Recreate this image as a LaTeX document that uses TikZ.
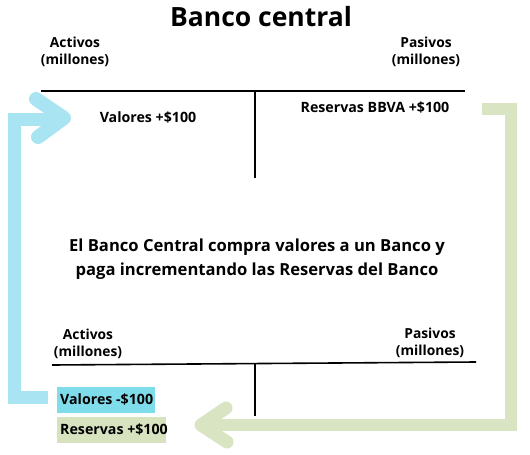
\documentclass[tikz,border=0pt]{standalone}
\usepackage{fontspec}
\setmainfont{Open Sans}
\usetikzlibrary{positioning}

\definecolor{flechaazul}{HTML}{A8E4F1}
\definecolor{cajaazul}{HTML}{7FDCEB}
\definecolor{flechaverde}{HTML}{D9E5C2}
\definecolor{cajaverde}{HTML}{D7E2BF}

\tikzset{
    titulo/.style={font=\fontsize{26.5}{31}\selectfont\bfseries},
    cuenta/.style={font=\fontsize{13.8}{17.5}\selectfont\bfseries, align=center},
    asiento/.style={font=\fontsize{14.2}{17}\selectfont\bfseries, inner sep=0pt},
    nota/.style={font=\fontsize{16.6}{24}\selectfont\bfseries, align=center},
    lineaT/.style={line width=1.6pt, black},
    barra/.style={line width=#1, line join=miter, line cap=butt},
    punta/.style={line width=#1, line join=round, line cap=round}
}

\begin{document}
\begin{tikzpicture}[x=1pt, y=-1pt]
        \useasboundingbox[fill=white] (0,0) rectangle (530,455);

        % Titulo
        \node[titulo] (tit) at (261,17) {Banco central};

        % Cuenta T superior
        \coordinate (s1) at (41,91);
        \coordinate (s2) at (465,91);
        \coordinate (s3) at (255,91);
        \coordinate (s4) at (255,178);
        \draw[lineaT] (s1) -- (s2);
        \draw[lineaT] (s3) -- (s4);
        \node[cuenta] (actS) at (75,52) {Activos\\(millones)};
        \node[cuenta] (pasS) at (426,52) {Pasivos\\(millones)};
        \node[asiento] (valS) at (148,118) {Valores +\$100};
        \node[asiento] (resS) at (375,108) {Reservas BBVA +\$100};

        % Texto central
        \node[nota] (txt) at (257,259) {El Banco Central compra valores a un Banco y\\paga incrementando las Reservas del Banco};

        % Cuenta T inferior
        \coordinate (i1) at (52,365);
        \coordinate (i2) at (476,362);
        \coordinate (i3) at (255,364);
        \coordinate (i4) at (255,416);
        \draw[lineaT] (i1) -- (i2);
        \draw[lineaT] (i3) -- (i4);
        \node[cuenta] (actI) at (88,344) {Activos\\(millones)};
        \node[cuenta] (pasI) at (430,343) {Pasivos\\(millones)};

        % Asientos con fondo
        \fill[cajaazul] (57,387) rectangle (155,413);
        \fill[cajaverde] (57,417) rectangle (166,443);
        \node[asiento, anchor=west] (valI) at (60,400) {Valores -\$100};
        \node[asiento, anchor=west] (resI) at (60,430) {Reservas +\$100};

        % Flecha azul
        \coordinate (a1) at (48,397.5);
        \coordinate (a2) at (14,397.5);
        \coordinate (a3) at (14,119.5);
        \coordinate (a4) at (60,119.5);
        \draw[flechaazul, barra=13pt] (a1) -- (a2) -- (a3) -- (a4);
        \draw[flechaazul, punta=14pt] (36,99) -- (64,118) -- (38,137);

        % Flecha verde
        \coordinate (v1) at (482,109);
        \coordinate (v2) at (510.5,109);
        \coordinate (v3) at (510.5,425);
        \coordinate (v4) at (210,425);
        \draw[flechaverde, barra=12pt] (v1) -- (v2) -- (v3) -- (v4);
        \draw[flechaverde, punta=13pt] (226,408) -- (201,425) -- (227,442);
    \end{tikzpicture}
\end{document}
